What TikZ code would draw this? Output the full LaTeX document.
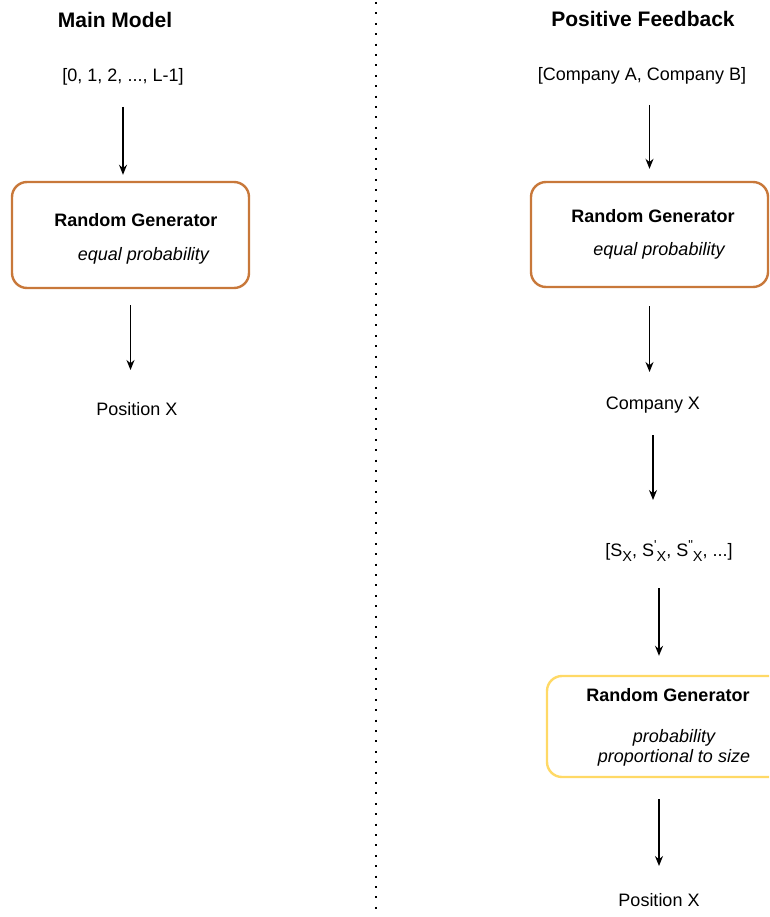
\documentclass[tikz,border=0pt]{standalone}
\usepackage{fontspec}
\setmainfont{Liberation Sans}
\usetikzlibrary{arrows.meta,positioning}
\definecolor{GenOrange}{HTML}{C8783A}
\definecolor{GenYellow}{HTML}{FFD966}
\newcommand{\sizeX}[1]{S\raisebox{7pt}{\fontsize{13}{13}\selectfont #1}\raisebox{-4.5pt}{\fontsize{14.5}{14.5}\selectfont X}}

\tikzset{
  heading/.style={font=\fontsize{21}{25}\selectfont\bfseries,inner sep=0pt},
  plain/.style={font=\fontsize{18}{22}\selectfont,inner sep=0pt},
  gentitle/.style={font=\fontsize{18}{22}\selectfont\bfseries,inner sep=0pt},
  gennote/.style={font=\fontsize{18}{20}\selectfont\itshape,align=center,inner sep=0pt},
  genbox/.style={draw=#1,line width=2.4pt,rounded corners=15pt,inner sep=0pt},
  arr/.style={-{Stealth[length=10pt,width=8pt]},line width=1.4pt},
  divider/.style={line width=2pt,dash pattern=on 2pt off 8.4pt},
}

\begin{document}
\begin{tikzpicture}[x=1pt,y=-1pt]
  \useasboundingbox (0,0) rectangle (769,917);
  \clip (0,0) rectangle (769,917);

  % divider
  \draw[divider] (376,2) -- (376,917);

  % main model
  \node[heading] (mainhead) at (115,20) {Main Model};
  \node[plain] (range) at (123,77) {[0, 1, 2, ..., L-1]};
  \node[genbox=GenOrange,minimum width=237pt,minimum height=106pt]
    (gen1) at (130.5,235) {};
  \node[gentitle] (gen1title) at (136,220) {Random Generator};
  \node[gennote] (gen1note) at (143.5,256) {equal probability};
  \node[plain] (posA) at (137,409) {Position X};

  \draw[arr,shorten <=30pt,shorten >=6pt] (range.center) -- (range.center |- gen1.north);
  \draw[arr,shorten <=16pt,shorten >=39pt] (gen1.south) -- (gen1.south |- posA.center);

  % positive feedback
  \node[heading] (fbhead) at (643,19) {Positive Feedback};
  \node[plain] (companies) at (642,76) {[Company A, Company B]};
  \node[genbox=GenOrange,minimum width=237pt,minimum height=105pt]
    (gen2) at (649.5,234.5) {};
  \node[gentitle] (gen2title) at (653,216) {Random Generator};
  \node[gennote] (gen2note) at (659,251) {equal probability};
  \node[plain] (compX) at (653,405) {Company X};
  \node[plain] (sizes) at (669,551)
    {[\sizeX{}, \sizeX{\textquotesingle}, \sizeX{\textquotedbl}, ...]};
  \node[genbox=GenYellow,minimum width=242pt,minimum height=101pt]
    (gen3) at (668,726.5) {};
  \node[gentitle] (gen3title) at (668,695) {Random Generator};
  \node[gennote] (gen3note) at (674,747.5) {probability\\proportional to size};
  \node[plain] (posB) at (659,900) {Position X};

  \draw[arr,shorten <=29pt,shorten >=12pt] (gen2.north |- companies.center) -- (gen2.north);
  \draw[arr,shorten <=18pt,shorten >=33pt] (gen2.south) -- (gen2.south |- compX.center);
  \draw[arr,shorten <=30pt,shorten >=51pt] (compX.center) -- (compX.center |- sizes.center);
  \draw[arr,shorten <=37pt,shorten >=19pt] (posB.center |- sizes.center) -- (posB.center |- gen3.north);
  \draw[arr,shorten <=21pt,shorten >=34pt] (posB.center |- gen3.south) -- (posB.center);
\end{tikzpicture}
\end{document}
